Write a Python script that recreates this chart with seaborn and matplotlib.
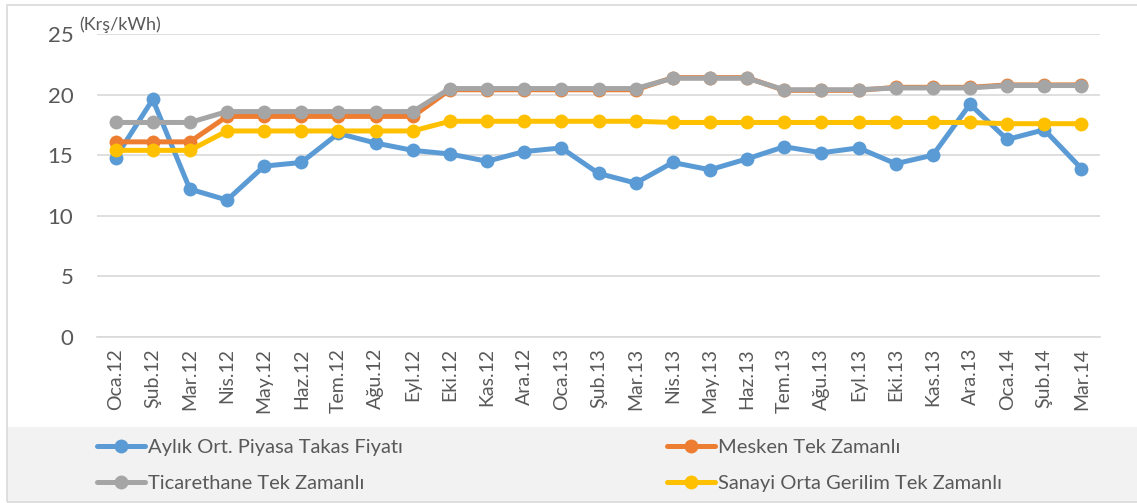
import numpy as np
import pandas as pd
import matplotlib
matplotlib.use('Agg')
import matplotlib.pyplot as plt
from matplotlib.patches import Rectangle
from matplotlib.lines import Line2D
import seaborn as sns

# Chart values
months = ['Oca.12', 'Şub.12', 'Mar.12', 'Nis.12', 'May.12', 'Haz.12', 'Tem.12', 'Ağu.12', 'Eyl.12',
          'Eki.12', 'Kas.12', 'Ara.12', 'Oca.13', 'Şub.13', 'Mar.13', 'Nis.13', 'May.13', 'Haz.13',
          'Tem.13', 'Ağu.13', 'Eyl.13', 'Eki.13', 'Kas.13', 'Ara.13', 'Oca.14', 'Şub.14', 'Mar.14']
ptf = [14.8, 19.6, 12.2, 11.3, 14.1, 14.4, 16.8, 16.0, 15.4,
       15.1, 14.5, 15.3, 15.6, 13.5, 12.7, 14.4, 13.8, 14.7,
       15.7, 15.2, 15.6, 14.3, 15.0, 19.2, 16.3, 17.1, 13.9]
mesken = [16.1, 16.1, 16.1, 18.2, 18.2, 18.2, 18.2, 18.2, 18.2,
          20.4, 20.4, 20.4, 20.4, 20.4, 20.4, 21.4, 21.4, 21.4,
          20.35, 20.35, 20.35, 20.6, 20.6, 20.6, 20.8, 20.8, 20.8]
ticarethane = [17.7, 17.7, 17.7, 18.6, 18.6, 18.6, 18.6, 18.6, 18.6,
               20.5, 20.5, 20.5, 20.5, 20.5, 20.5, 21.35, 21.35, 21.35,
               20.4, 20.4, 20.4, 20.55, 20.55, 20.55, 20.75, 20.75, 20.75]
sanayi = [15.4, 15.4, 15.4, 17.0, 17.0, 17.0, 17.0, 17.0, 17.0,
          17.8, 17.8, 17.8, 17.8, 17.8, 17.8, 17.7, 17.7, 17.7,
          17.7, 17.7, 17.7, 17.7, 17.7, 17.7, 17.6, 17.6, 17.6]
series_names = ['Aylık Ort. Piyasa Takas Fiyatı', 'Mesken Tek Zamanlı',
                'Ticarethane Tek Zamanlı', 'Sanayi Orta Gerilim Tek Zamanlı']
colors = ['#5b9bd5', '#ed7d31', '#a5a5a5', '#ffc000']

df = pd.DataFrame({'pos': np.arange(len(months))})
for name, vals in zip(series_names, [ptf, mesken, ticarethane, sanayi]):
    df[name] = vals
long = df.melt(id_vars='pos', var_name='seri', value_name='deger')

sns.set_theme(style='white')
plt.rcParams['font.family'] = ['Lato', 'DejaVu Sans']
text_color = '#595959'

W, H = 1137, 503
fig = plt.figure(figsize=(W / 100, H / 100), dpi=100)
ax = fig.add_axes([97 / W, 1 - 337 / H, (1100 - 97) / W, (337 - 34) / H])

for name, c in zip(series_names, colors):
    sub = long[long['seri'] == name]
    sns.lineplot(data=sub, x='pos', y='deger', ax=ax, color=c, linewidth=3.6,
                 marker='o', markersize=10, markeredgewidth=0, legend=False)

ax.set_xlim(-0.5, len(months) - 0.5)
ax.set_ylim(0, 25)
ax.set_yticks([0, 5, 10, 15, 20, 25])
ax.yaxis.grid(True, color='#d9d9d9', linewidth=1.2)
ax.set_xticks(np.arange(len(months)))
ax.set_xticklabels(months, rotation=90, fontsize=14, color=text_color)
ax.set_xticks(np.arange(len(months) + 1) - 0.5, minor=True)
ax.tick_params(axis='x', which='major', length=0, pad=8)
ax.tick_params(axis='x', which='minor', length=5, color='#d9d9d9', width=1.2)
ax.tick_params(axis='y', labelsize=16, labelcolor=text_color, length=0, pad=17)
for s in ['top', 'right', 'left']:
    ax.spines[s].set_visible(False)
ax.spines['bottom'].set_color('#d9d9d9')
ax.spines['bottom'].set_linewidth(1.2)
ax.set_xlabel('')
ax.set_ylabel('')

fig.text(79 / W, 1 - 25 / H, '(Krş/kWh)', fontsize=13, color=text_color, va='center', ha='left')

# legend band and outer frame
fig.patches.append(Rectangle((7 / W, 1 - 502 / H), (W - 7) / W, (502 - 427) / H,
                             transform=fig.transFigure, facecolor='#f2f2f2', edgecolor='none', zorder=0))
fig.patches.append(Rectangle((7 / W, 1 - 502 / H), (W + 10) / W, (502 - 5) / H,
                             transform=fig.transFigure, facecolor='none', edgecolor='#d9d9d9',
                             linewidth=1.2, zorder=1))

handles = [Line2D([], [], color=c, linewidth=3.6, marker='o', markersize=10, markeredgewidth=0)
           for c in colors]
leg_kw = dict(loc='upper left', frameon=False, fontsize=14.5, handlelength=2.4,
              handletextpad=0.15, labelspacing=0.95, borderpad=0, borderaxespad=0,
              labelcolor=text_color)
fig.legend([handles[0], handles[2]], [series_names[0], series_names[2]],
           bbox_to_anchor=(97 / W, 1 - 439 / H), **leg_kw)
fig.legend([handles[1], handles[3]], [series_names[1], series_names[3]],
           bbox_to_anchor=(667 / W, 1 - 439 / H), **leg_kw)

fig.savefig('out.png', dpi=100)
